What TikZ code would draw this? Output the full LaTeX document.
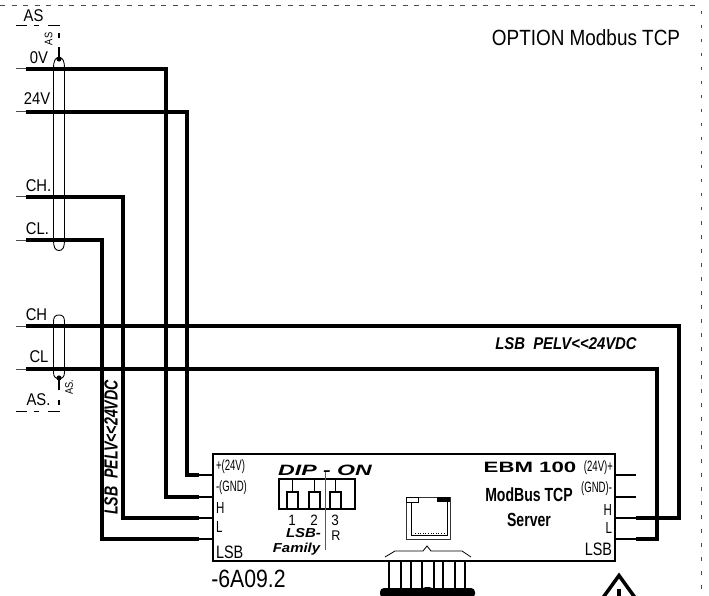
\documentclass[tikz,border=0pt]{standalone}
\usepackage{fontspec}
\setmainfont{Liberation Sans}[Ligatures=NoCommon]
\newcommand{\fs}[3]{\scalebox{#2}[1]{\fontsize{#1}{#1}\selectfont #3}}
\newcommand{\pelv}{LSB\ \ PELV<{}<24VDC}
\tikzset{
 wire/.style={line width=4.4pt,line join=miter},
 stub/.style={line width=1.2pt},
 thinw/.style={line width=1pt,black!70},
 shield/.style={line width=.9pt},
 lbl/.style={inner sep=0pt,outer sep=0pt,anchor=center,text=black},
 box/.style={draw,line width=2pt,inner sep=0pt},
 border/.style={line width=.9pt,black!70},
}
\begin{document}
\begin{tikzpicture}[x=1pt,y=-1pt]
\useasboundingbox (0,0) rectangle (709,596);
\clip (0,0) rectangle (709,596);
% outer dashed frame
\coordinate (ftl) at (0,5); \coordinate (ftr) at (695,5);
\coordinate (frt) at (701,11); \coordinate (frb) at (701,596);
\draw[border,dash pattern=on 5pt off 6.5pt] (ftl) -- (ftr);
\draw[border,dash pattern=on 3.5pt off 10.5pt] (frt) -- (frb);
% module
\node[box,minimum width=402pt,minimum height=107pt] (mod) at (414,507.5) {};
% pins left
\foreach \n/\y in {lp/475,lg/497,lh/518,ll/539}{
 \coordinate (\n) at (mod.west |- 0,\y);
}
\foreach \n/\y in {rp/475,rg/497,rh/518,rl/539}{
 \coordinate (\n) at (mod.east |- 0,\y);
}
% free ends
\foreach \n/\y in {a0/69,a24/112,ach/197,acl/240,bch/326,bcl/369}{
 \coordinate (\n t) at (16,\y);
 \coordinate (\n) at (26,\y);
}
% thin stubs
\foreach \n in {a0,a24,ach,acl,bch,bcl}{ \draw[thinw] (\n t) -- (\n); }
\coordinate (s1) at (199,0); \coordinate (s2) at (636,0);
\foreach \n in {lp,lg,lh,ll}{ \draw[stub] (\n) -- (\n -| s1); }
\foreach \n in {rp,rg,rh,rl}{ \draw[stub] (\n) -- (\n -| s2); }
% thick wires
\draw[wire] (a0) -| (166,497) -- (199,497);
\draw[wire] (a24) -| (187,475) -- (199,475);
\draw[wire] (ach) -| (123,518) -- (199,518);
\draw[wire] (acl) -| (102,539) -- (199,539);
\draw[wire] (bch) -| (679,518) -- (636,518);
\draw[wire] (bcl) -| (657,539) -- (636,539);
% shields
\draw[shield] (53.5,69) .. controls (53.5,61) and (55,57.5) .. (59,57.5) .. controls (63,57.5) and (64.5,61) .. (64.5,69) -- (64.5,240) .. controls (64.5,247) and (63,250.5) .. (59,250.5) .. controls (55,250.5) and (53.5,247) .. (53.5,240) -- cycle;
\draw[shield] (53.5,322) .. controls (53.5,317) and (55,315) .. (59,315) .. controls (63,315) and (64.5,317) .. (64.5,322) -- (64.5,372) .. controls (64.5,376.5) and (63,378.5) .. (59,378.5) .. controls (55,378.5) and (53.5,376.5) .. (53.5,372) -- cycle;
% drains
\coordinate (d1) at (59,59); \coordinate (d2) at (59,378);
\fill (d1) circle (2.6pt); \fill (d2) circle (2.6pt);
\draw[line width=1.6pt] (d1) -- (59,47);
\draw[line width=1.6pt] (59,33) -- (59,38);
\draw[line width=1.6pt] (d2) -- (59,390);
\draw[line width=1.6pt] (59,400) -- (59,405);
\draw[line width=1pt] (16,26) -- (27,26) (34,26) -- (39,26) (48,26) -- (60,26);
\draw[line width=1pt] (16,411) -- (27,411) (34,411) -- (39,411) (48,411) -- (60,411);
% left labels
\node[lbl] (tas) at (33.5,16) {\fs{17}{.87}{AS}};
\node[lbl,rotate=90] (tas2) at (48.5,39) {\fs{11}{.85}{AS}};
\node[lbl] (t0v) at (39,58) {\fs{17}{.87}{0V}};
\node[lbl] (t24) at (37,99) {\fs{17}{.87}{24V}};
\node[lbl] (tch1) at (38.5,186) {\fs{17}{.87}{CH.}};
\node[lbl] (tcl1) at (37.5,229) {\fs{17}{.87}{CL.}};
\node[lbl] (tch2) at (36.5,315) {\fs{17}{.87}{CH}};
\node[lbl] (tcl2) at (39,357) {\fs{17}{.87}{CL}};
\node[lbl] (tas3) at (38.5,400) {\fs{17}{.87}{AS.}};
\node[lbl,rotate=90] (tas4) at (69,387) {\fs{11}{.85}{AS.}};
% titles
\node[lbl] (topt) at (586,38) {\fs{22}{.86}{OPTION Modbus TCP}};
\node[lbl] (tpel) at (566,344) {\fs{17}{.875}{\bfseries\itshape \pelv}};
\node[lbl,rotate=90] (tpel2) at (111,447.5) {\fs{19}{.745}{\bfseries\itshape \pelv}};
\node[lbl] (tid) at (248.5,579) {\fs{25}{.85}{-6A09.2}};
% module left text
\node[lbl,anchor=west] (m1) at (216,467) {\fs{15}{.64}{+(24V)}};
\node[lbl,anchor=west] (m2) at (216,488) {\fs{15}{.64}{-(GND)}};
\node[lbl,anchor=west] (m3) at (216,508) {\fs{16}{.72}{H}};
\node[lbl,anchor=west] (m4) at (216,527) {\fs{16}{.72}{L}};
\node[lbl,anchor=west] (m5) at (216,552) {\fs{18}{.8}{LSB}};
% module right text
\node[lbl,anchor=east] (r1) at (613,468) {\fs{15}{.64}{(24V)+}};
\node[lbl,anchor=east] (r2) at (612,489) {\fs{15}{.64}{(GND)-}};
\node[lbl,anchor=east] (r3) at (612,510) {\fs{16}{.72}{H}};
\node[lbl,anchor=east] (r4) at (612,528) {\fs{16}{.72}{L}};
\node[lbl,anchor=east] (r5) at (612,549) {\fs{18}{.8}{LSB}};
\node[lbl] (ebm) at (530,467) {\fs{15}{1.48}{\bfseries EBM 100}};
\node[lbl] (mb) at (529,495) {\fs{19}{.74}{\bfseries ModBus TCP}};
\node[lbl] (srv) at (529,520) {\fs{19}{.74}{\bfseries Server}};
% DIP
\node[lbl] (dip) at (325,470) {\fs{15}{1.54}{\bfseries\itshape DIP - ON}};
\node[draw,line width=1.4pt,inner sep=0pt,minimum width=76pt,minimum height=30pt] (dbox) at (317,494) {};
\foreach \n/\x in {sa/292.5,sb/314.5,sc/335.5}{
 \node[draw,line width=1.4pt,inner sep=0pt,minimum width=11pt,minimum height=17pt] (\n) at (\x,500.5) {};
 \draw[line width=1pt] (\n.north) -- (\n.north |- dbox.north);
}
\coordinate (va) at (325,472); \coordinate (vb) at (325,550);
\draw[line width=.8pt,black!65] (va) -- (vb);
\node[lbl] (n1) at (292,520) {\fs{15}{.9}{1}};
\node[lbl] (n2) at (314,520) {\fs{15}{.9}{2}};
\node[lbl] (n3) at (335,520) {\fs{15}{.9}{3}};
\node[lbl] (nr) at (336,536) {\fs{14}{.9}{R}};
\node[lbl] (fam1) at (303.5,533) {\fs{13}{1.15}{\bfseries\itshape LSB-}};
\node[lbl] (fam2) at (296.5,549) {\fs{13}{1.15}{\bfseries\itshape Family}};
% RJ45
\node[draw,line width=.8pt,black!80,inner sep=0pt,minimum width=44pt,minimum height=42pt] (rj) at (428,518) {};
\draw[line width=.8pt] (411,502) -- (411,535) -- (447.5,535) -- (447.5,502);
\draw[line width=1.6pt,dash pattern=on 1pt off 1.6pt] (415,533.5) -- (444,533.5);
\node[draw,line width=.7pt,fill=white,inner sep=0pt,minimum width=12pt,minimum height=5.5pt,anchor=north west] (rjw) at (rj.north west) {};
\node[fill=black,inner sep=0pt,minimum width=13pt,minimum height=5.5pt,anchor=north east] (rjb) at (rj.north east) {};
% brace
\draw[line width=.8pt] (385,557) -- (395,551) -- (423,551) -- (427,546) -- (431,551) -- (462,551) -- (471,557);
% connector pins
\node[fill=black,inner sep=0pt,rounded corners=4pt,minimum width=95pt,minimum height=10pt] (plug) at (427.5,593) {};
\fill (427.5,590) ellipse (6pt and 3pt);
\foreach \x in {389,401,411,422,434,443,455,465}{
 \draw[line width=1.5pt] (\x,561) -- (\x,590);
}
% warning triangle
\draw[line width=3.5pt,miter limit=10] (602,599) -- (619,575.5) -- (636,599);
\fill (617.3,589) rectangle (620.7,596);
\end{tikzpicture}
\end{document}
